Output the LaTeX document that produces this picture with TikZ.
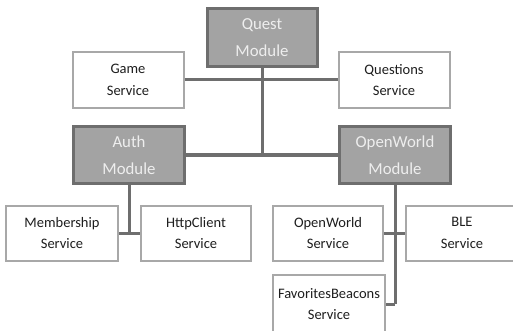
\documentclass[tikz,border=0pt]{standalone}
\usepackage{fontspec}
\setmainfont{Carlito}
\definecolor{modfill}{HTML}{A3A3A3}
\definecolor{modline}{HTML}{6E6E6E}
\definecolor{svcline}{HTML}{A8A8A8}
\definecolor{svctext}{HTML}{1E1E1E}
\definecolor{modtext}{HTML}{EEEEEE}
\begin{document}
\begin{tikzpicture}[x=1pt,y=-1pt,
  module/.style={draw=modline,line width=3pt,fill=modfill,text=modtext,
    minimum width=111pt,minimum height=56pt,inner sep=0pt,align=center,
    font=\fontsize{16.8}{27}\selectfont},
  service/.style={draw=svcline,line width=2pt,fill=white,text=svctext,
    minimum width=111pt,minimum height=55pt,inner sep=0pt,align=center,
    font=\fontsize{14.5}{21.5}\selectfont},
  link/.style={draw=modline,line width=3pt}]
\useasboundingbox (0,0) rectangle (513,331);
\clip (0,0) rectangle (513,331);

% top level
\node[module,minimum width=110pt,minimum height=58pt] (quest) at (262,38) {Quest\\Module};
\node[service,minimum height=56pt] (game) at (128,80) {Game\\Service};
\node[service,minimum height=56pt] (questions) at (394,80) {Questions\\Service};

% sub modules
\node[module] (auth) at (129,155) {Auth\\Module};
\node[module] (owmod) at (395,155) {OpenWorld\\Module};

% services of the sub modules
\node[service,minimum width=112pt] (member) at (62,233) {Membership\\Service};
\node[service,minimum width=110pt] (http) at (196,233) {HttpClient\\Service};
\node[service,minimum width=110pt] (owsvc) at (328,233) {OpenWorld\\Service};
\node[service,minimum width=112pt] (ble) at (462,233) {BLE\\Service};
\node[service,minimum width=112pt,minimum height=58pt] (fav) at (329,304) {FavoritesBeacons\\Service};

% connectors
\coordinate (hub) at (262,155);
\coordinate (authhub) at (129,233);
\coordinate (owhub) at (395,304);
\draw[link] (quest.south) -- (hub);
\draw[link] (game.east) -- (questions.west);
\draw[link] (auth.east) -- (owmod.west);
\draw[link] (auth.south) -- (authhub);
\draw[link] (member.east) -- (http.west);
\draw[link] (owmod.south) -- (owhub);
\draw[link] (owsvc.east) -- (ble.west);
\draw[link] (fav.east) -- (owhub);
\end{tikzpicture}
\end{document}
